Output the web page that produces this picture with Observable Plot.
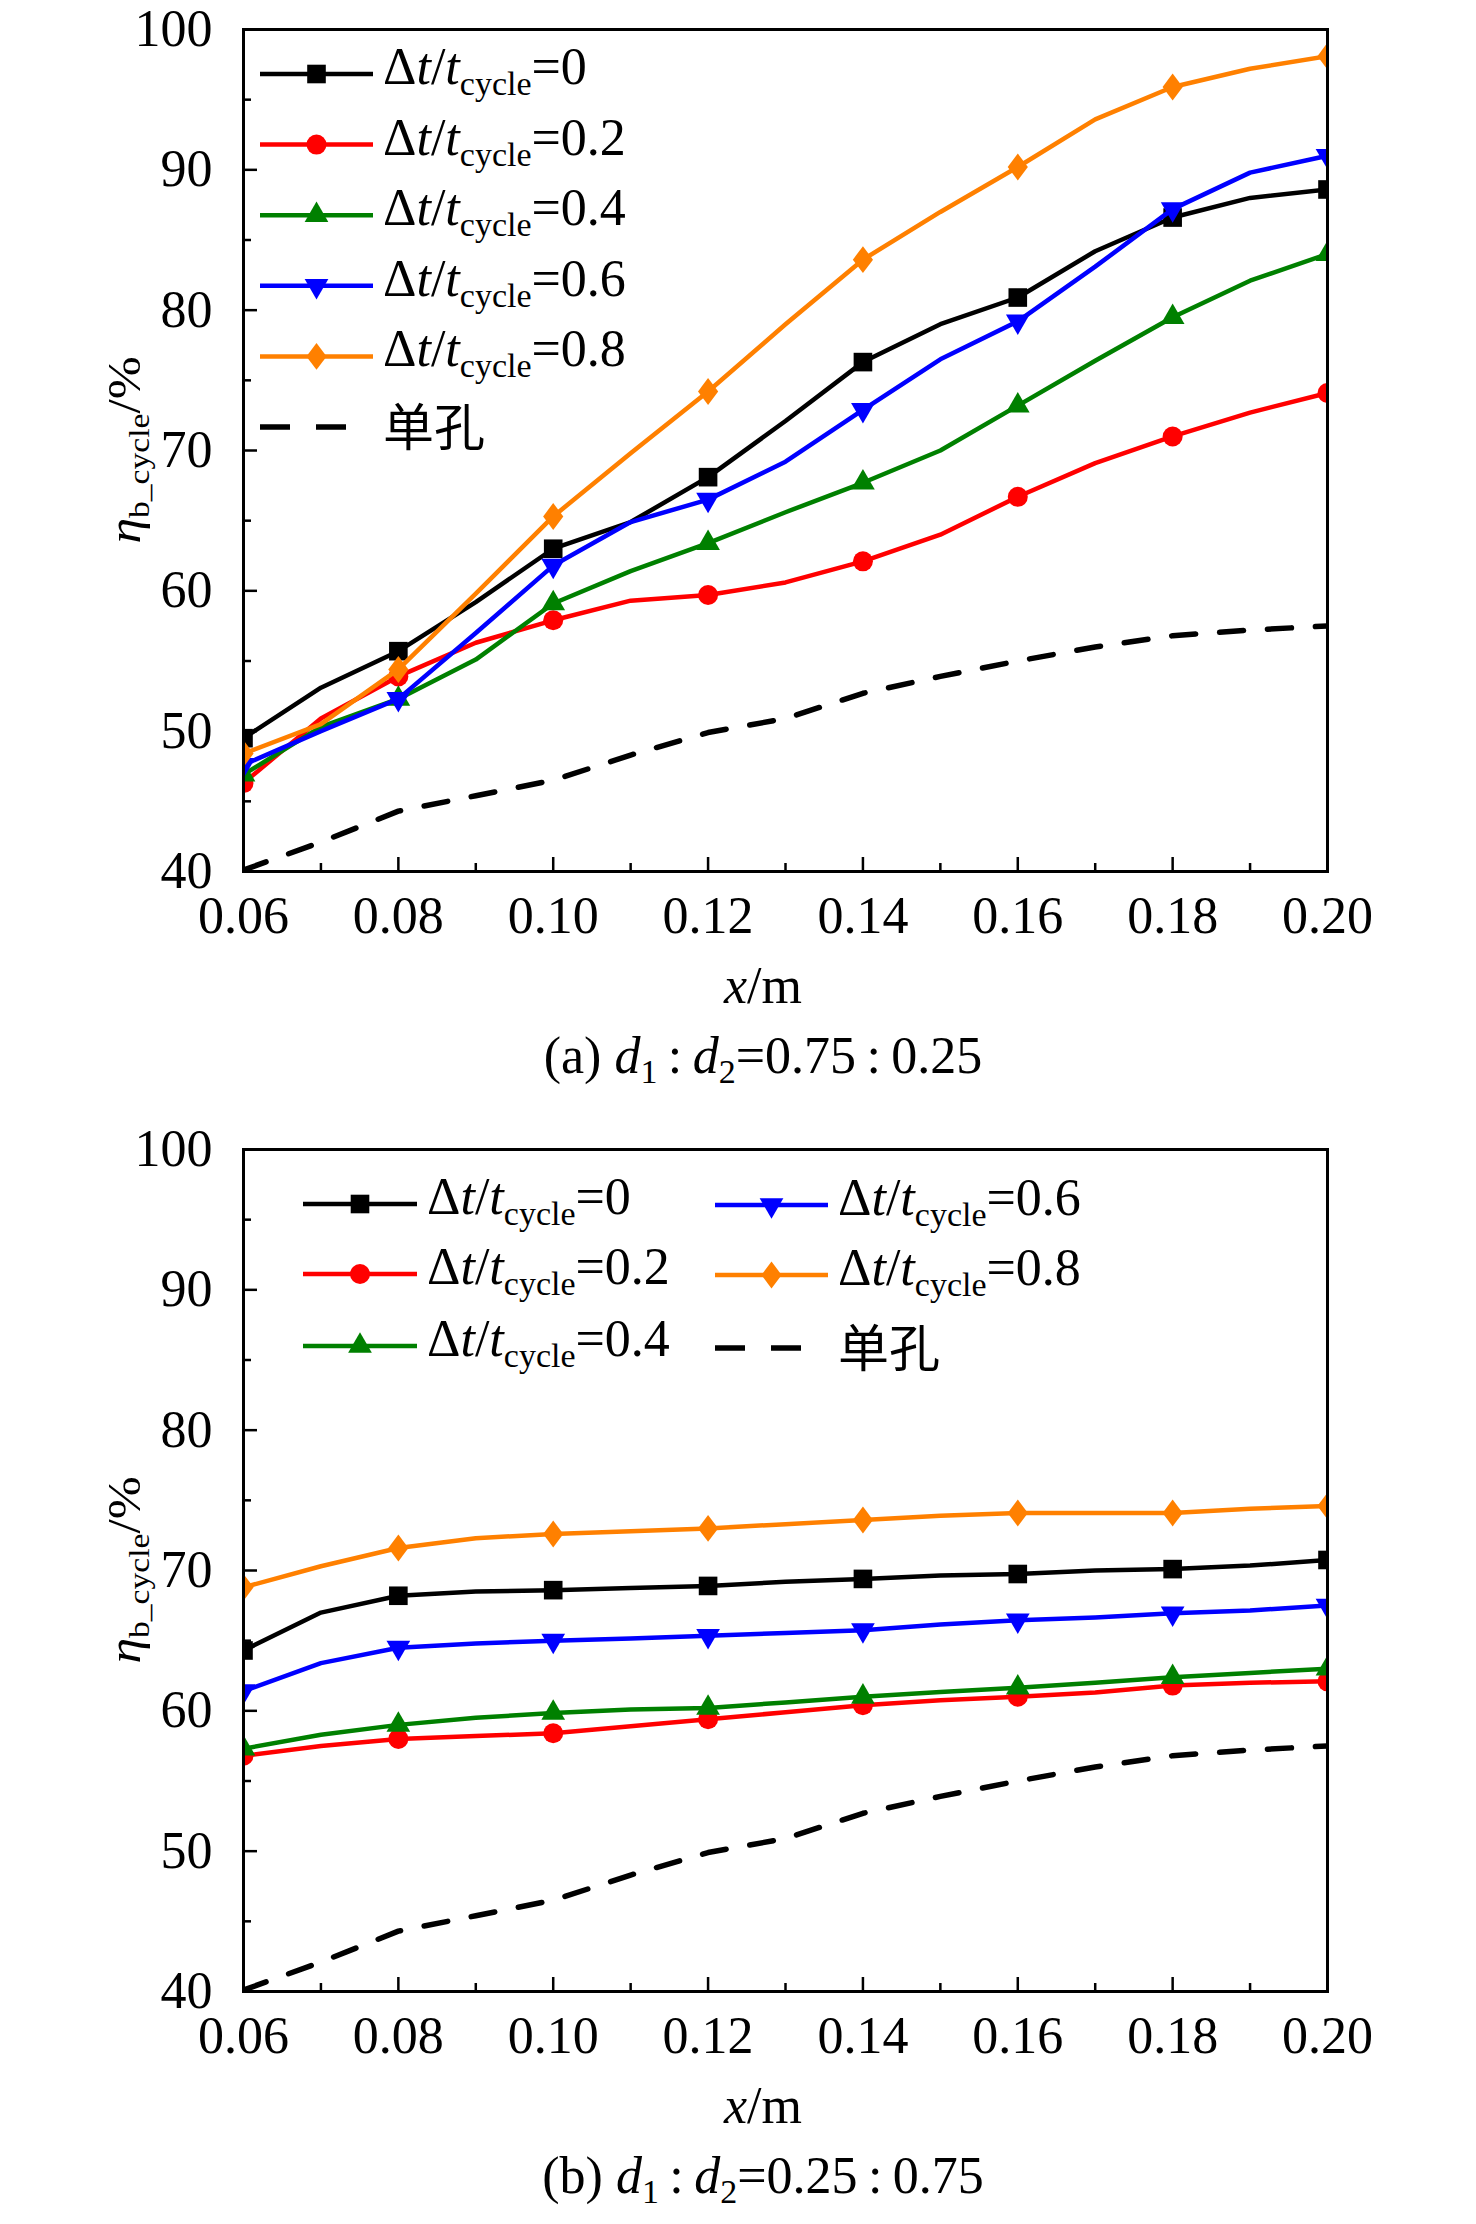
<!DOCTYPE html>
<html>
<head>
<meta charset="utf-8">
<script src="https://cdn.jsdelivr.net/npm/d3@7"></script>
<script src="https://cdn.jsdelivr.net/npm/@observablehq/plot@0.6"></script>
<style>
  html, body { margin: 0; padding: 0; background: #fff; }
  #wrap { width: 1476px; }
  #wrap svg { display: block; }
</style>
</head>
<body>
<div id="wrap"></div>
<script>
// ---------------- data ----------------
const xs = [0.06, 0.07, 0.08, 0.09, 0.10, 0.11, 0.12, 0.13, 0.14, 0.15, 0.16, 0.17, 0.18, 0.19, 0.20];
const xMajor = [0.06, 0.08, 0.10, 0.12, 0.14, 0.16, 0.18, 0.20];
const xMinor = [0.07, 0.09, 0.11, 0.13, 0.15, 0.17, 0.19];
const yMajor = [40, 50, 60, 70, 80, 90, 100];
const yMinor = [45, 55, 65, 75, 85, 95];
const seriesValues = ["0", "0.2", "0.4", "0.6", "0.8"];
const singleLabel = "单孔";

// single hole (same in both panels)
const singleHole = [40.1, 42.1, 44.3, 45.4, 46.5, 48.3, 49.9, 50.9, 52.7, 53.9, 55.0, 56.0, 56.8, 57.2, 57.5];

// panel (a) d1:d2 = 0.75:0.25
const a_dt0 = [49.5, 53.1, 55.7, 59.2, 63.0, 64.9, 68.1, 72.1, 76.3, 79.0, 80.9, 84.2, 86.6, 88.0, 88.6];
const a_dt2 = [46.3, 50.9, 53.9, 56.3, 57.9, 59.3, 59.7, 60.6, 62.1, 64.0, 66.7, 69.1, 71.0, 72.7, 74.1];
const a_dt4 = [46.9, 50.3, 52.3, 55.1, 59.1, 61.4, 63.4, 65.6, 67.7, 70.0, 73.2, 76.4, 79.5, 82.1, 84.0];
const a_dt6 = [47.6, 50.0, 52.3, 57.0, 61.8, 64.9, 66.5, 69.2, 72.9, 76.5, 79.2, 83.1, 87.2, 89.8, 91.0];
const a_dt8 = [48.4, 50.5, 54.4, 59.8, 65.3, 69.8, 74.2, 79.0, 83.6, 87.0, 90.2, 93.6, 95.9, 97.2, 98.1];

// panel (b) d1:d2 = 0.25:0.75
const b_dt0 = [64.3, 67.0, 68.2, 68.5, 68.6, 68.75, 68.9, 69.2, 69.4, 69.65, 69.75, 70.0, 70.1, 70.35, 70.75];
const b_dt2 = [56.8, 57.5, 58.0, 58.2, 58.4, 58.9, 59.4, 59.9, 60.4, 60.75, 61.0, 61.3, 61.8, 62.0, 62.1];
const b_dt4 = [57.3, 58.3, 59.0, 59.5, 59.85, 60.1, 60.2, 60.6, 61.0, 61.35, 61.65, 62.0, 62.4, 62.7, 63.0];
const b_dt6 = [61.4, 63.4, 64.5, 64.8, 65.0, 65.15, 65.35, 65.55, 65.75, 66.15, 66.45, 66.65, 66.95, 67.15, 67.5];
const b_dt8 = [68.8, 70.3, 71.6, 72.3, 72.6, 72.8, 73.0, 73.3, 73.6, 73.9, 74.1, 74.1, 74.1, 74.4, 74.6];

// ---------------- styles ----------------
const FONT = "'Liberation Serif', serif";
const CJK = "'Noto Sans CJK SC', sans-serif";
const colors = ["#000000", "#ff0000", "#008000", "#0000ff", "#ff8000"];
const triDown = {
  draw(ctx, size) {
    const y = Math.sqrt(size / (Math.sqrt(3) * 3));
    ctx.moveTo(0, 2 * y);
    ctx.lineTo(-Math.sqrt(3) * y, -y);
    ctx.lineTo(Math.sqrt(3) * y, -y);
    ctx.closePath();
  }
};
const diamondSym = {
  draw(ctx, size) {
    const h = Math.sqrt(size / 1.5), w = 0.75 * h;
    ctx.moveTo(0, -h); ctx.lineTo(w, 0); ctx.lineTo(0, h); ctx.lineTo(-w, 0); ctx.closePath();
  }
};
const symbols = [d3.symbolSquare, d3.symbolCircle, d3.symbolTriangle, triDown, diamondSym];
const radii = [10.5, 10, 8.8, 8.8, 9.3];

const FW = 1084, FH = 842, ML = 243, W = 1476;

function toRows(vals) { return xs.map((x, i) => ({x, y: vals[i], i})); }

function richText(g, x, y, parts, opts = {}) {
  const t = g.append("text")
    .attr("x", x).attr("y", y)
    .attr("text-anchor", opts.anchor || "start")
    .attr("fill", "#000")
    .attr("font-family", opts.family || FONT)
    .attr("font-size", opts.size || "52px");
  if (opts.transform) t.attr("transform", opts.transform).attr("x", 0).attr("y", 0);
  let shift = 0;
  parts.forEach(p => {
    const ts = t.append("tspan").text(p.t);
    if (p.i) ts.attr("font-style", "italic");
    if (p.size) ts.attr("font-size", p.size);
    const target = p.sub || 0;
    if (target !== shift) { ts.attr("dy", target - shift); shift = target; }
  });
  return t;
}

function legendLabel(v) {
  return [{t: "Δ"}, {t: "t", i: 1}, {t: "/"}, {t: "t", i: 1}, {t: "cycle", size: "34px", sub: 11}, {t: "=" + v}];
}

function makePanel(cfg) {
  const mt = cfg.marginTop, H = cfg.height;
  const marks = [
    Plot.ruleX(xMinor, {x: d => d, insetTop: FH - 8, stroke: "#000", strokeWidth: 2.5}),
    Plot.ruleX(xMajor, {x: d => d, insetTop: FH - 14, stroke: "#000", strokeWidth: 2.5}),
    Plot.ruleY(yMinor, {y: d => d, insetRight: FW - 8, stroke: "#000", strokeWidth: 2.5}),
    Plot.ruleY(yMajor, {y: d => d, insetRight: FW - 14, stroke: "#000", strokeWidth: 2.5}),
    Plot.line(toRows(singleHole), {x: "x", y: "y", stroke: "#000", strokeWidth: 5.5, strokeDasharray: "24,24", clip: true})
  ];
  cfg.series.forEach((vals, k) => {
    const rows = toRows(vals);
    marks.push(Plot.line(rows, {x: "x", y: "y", stroke: colors[k], strokeWidth: 4.5, strokeLinejoin: "round", clip: true}));
    marks.push(Plot.dot(rows.filter(d => d.i % 2 === 0), {x: "x", y: "y", symbol: symbols[k], r: radii[k], fill: colors[k], stroke: "none", clip: true}));
  });
  marks.push(Plot.frame({stroke: "#000", strokeWidth: 3}));

  const svgEl = Plot.plot({
    width: W, height: H,
    marginLeft: ML, marginRight: W - ML - FW, marginTop: mt, marginBottom: H - mt - FH,
    style: {fontFamily: FONT, fontSize: "52px", color: "#000", background: "#fff", overflow: "visible"},
    x: {domain: [0.06, 0.20], ticks: xMajor, tickFormat: d => d.toFixed(2), tickSize: 0, tickPadding: 25, label: null},
    y: {domain: [40, 100], ticks: yMajor, tickSize: 0, tickPadding: 31, label: null},
    marks
  });
  const svg = d3.select(svgEl);

  // y-axis title
  richText(svg, 0, 0, [{t: "η", i: 1}, {t: "b_cycle", size: "30px", sub: 9}, {t: "/%"}],
    {anchor: "middle", size: "46px", transform: `translate(140,${mt + FH / 2}) rotate(-90) scale(1.12,1)`});
  // x-axis title
  richText(svg, 763, mt + FH + 132, [{t: "x", i: 1}, {t: "/m"}], {anchor: "middle"});
  // caption
  richText(svg, 763, mt + FH + 202, cfg.caption, {anchor: "middle"});

  // legend
  const lg = svg.append("g").attr("text-anchor", "start");
  cfg.legend.forEach(e => {
    if (e.k === "single") {
      lg.append("line").attr("x1", e.x0).attr("x2", e.x0 + 86).attr("y1", e.y).attr("y2", e.y)
        .attr("stroke", "#000").attr("stroke-width", 5.5).attr("stroke-dasharray", "30,26");
      richText(lg, e.tx, e.y + 19, [{t: singleLabel}], {size: "51px", family: CJK});
    } else {
      const k = e.k;
      lg.append("line").attr("x1", e.x0).attr("x2", e.x1).attr("y1", e.y).attr("y2", e.y)
        .attr("stroke", colors[k]).attr("stroke-width", 4.5);
      lg.append("path").attr("transform", `translate(${(e.x0 + e.x1) / 2},${e.y})`)
        .attr("d", d3.symbol(symbols[k], Math.PI * radii[k] * radii[k])()).attr("fill", colors[k]);
      richText(lg, e.tx, e.y + 10, legendLabel(seriesValues[k]), {size: "52px"});
    }
  });
  document.getElementById("wrap").appendChild(svgEl);
}

// panel (a)
const legA = [0, 1, 2, 3, 4, "single"].map((k, i) => ({k, x0: 260, x1: 373, tx: 383, y: 74 + 70.6 * i}));
makePanel({
  marginTop: 29, height: 1100,
  series: [a_dt0, a_dt2, a_dt4, a_dt6, a_dt8],
  legend: legA,
  caption: [{t: "(a) "}, {t: "d", i: 1}, {t: "1", size: "34px", sub: 10}, {t: "\u2009:\u2009"}, {t: "d", i: 1}, {t: "2", size: "34px", sub: 10}, {t: "=0.75\u2009:\u20090.25"}]
});

// panel (b)
const legB = [
  {k: 0, x0: 303, x1: 417, tx: 427, y: 104},
  {k: 1, x0: 303, x1: 417, tx: 427, y: 174},
  {k: 2, x0: 303, x1: 417, tx: 427, y: 246},
  {k: 3, x0: 715, x1: 828, tx: 838, y: 105},
  {k: 4, x0: 715, x1: 828, tx: 838, y: 175},
  {k: "single", x0: 715, x1: 828, tx: 838, y: 248}
];
makePanel({
  marginTop: 49, height: 1124,
  series: [b_dt0, b_dt2, b_dt4, b_dt6, b_dt8],
  legend: legB,
  caption: [{t: "(b) "}, {t: "d", i: 1}, {t: "1", size: "34px", sub: 10}, {t: "\u2009:\u2009"}, {t: "d", i: 1}, {t: "2", size: "34px", sub: 10}, {t: "=0.25\u2009:\u20090.75"}]
});
</script>
</body>
</html>
